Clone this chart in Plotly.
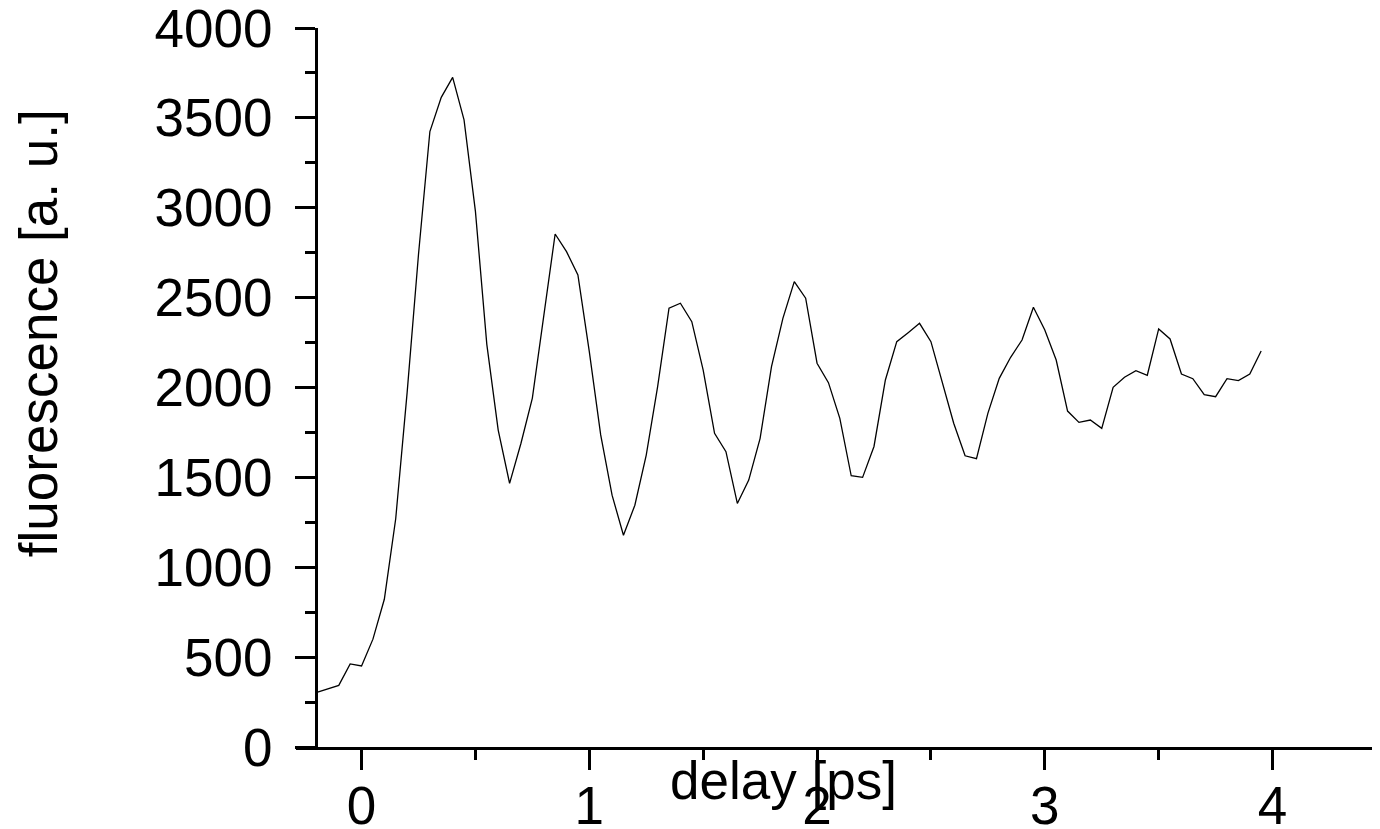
import plotly.graph_objects as go

delay_ps = [-0.2, -0.15, -0.1, -0.05, 0.0, 0.05, 0.1, 0.15, 0.2, 0.25,
            0.3, 0.35, 0.4, 0.45, 0.5, 0.55, 0.6, 0.65, 0.7, 0.75,
            0.8, 0.85, 0.9, 0.95, 1.0, 1.05, 1.1, 1.15, 1.2, 1.25,
            1.3, 1.35, 1.4, 1.45, 1.5, 1.55, 1.6, 1.65, 1.7, 1.75,
            1.8, 1.85, 1.9, 1.95, 2.0, 2.05, 2.1, 2.15, 2.2, 2.25,
            2.3, 2.35, 2.4, 2.45, 2.5, 2.55, 2.6, 2.65, 2.7, 2.75,
            2.8, 2.85, 2.9, 2.95, 3.0, 3.05, 3.1, 3.15, 3.2, 3.25,
            3.3, 3.35, 3.4, 3.45, 3.5, 3.55, 3.6, 3.65, 3.7, 3.75,
            3.8, 3.85, 3.9, 3.95]

fluorescence = [303, 321, 343, 462, 451, 600, 822, 1270, 1970, 2740,
                3424, 3614, 3725, 3489, 2980, 2240, 1763, 1467, 1690, 1941,
                2395, 2854, 2756, 2626, 2200, 1736, 1401, 1178, 1345, 1624,
                2005, 2441, 2469, 2366, 2097, 1745, 1643, 1355, 1485, 1717,
                2116, 2385, 2589, 2497, 2135, 2027, 1828, 1509, 1500, 1672,
                2042, 2255, 2305, 2357, 2255, 2032, 1801, 1620, 1604, 1856,
                2051, 2168, 2264, 2446, 2320, 2153, 1869, 1806, 1819, 1773,
                2001, 2057, 2094, 2068, 2326, 2270, 2075, 2049, 1960, 1949,
                2049, 2038, 2075, 2203]

x_ticks = [0, 1, 2, 3, 4]
y_ticks = [0, 500, 1000, 1500, 2000, 2500, 3000, 3500, 4000]
x_title = "delay [ps]"
y_title = "fluorescence [a. u.]"

FONT = "Liberation Sans, Arial, sans-serif"
W, H = 1380, 829
OFF = 8  # page body margin of the html
ML = 296 - OFF
MT = 28 - OFF
MB = H - (746.7 - OFF)
MR = OFF
plot_w = W - ML - MR
plot_h = H - MT - MB
px_per_unit = 227.75
yaxis_px = 316  # page pixel of the y axis (x = -0.2)
x_left = -0.2 - (yaxis_px - 296) / px_per_unit
x_right = -0.2 + (1380 - yaxis_px) / px_per_unit


def paper_x(page_x):
    return (page_x - 296) / plot_w


def paper_y(page_y):
    return (746.7 - page_y) / plot_h


fig = go.Figure()
fig.add_trace(go.Scatter(x=delay_ps, y=fluorescence, mode="lines",
                         line=dict(color="black", width=1.3),
                         showlegend=False))

fig.update_layout(
    width=W, height=H,
    margin=dict(l=ML, r=MR, t=MT, b=MB, autoexpand=False),
    paper_bgcolor="white", plot_bgcolor="white",
    font=dict(family=FONT, color="black"),
    xaxis=dict(
        domain=[0, 1], range=[x_left, x_right],
        showline=True, linecolor="black", linewidth=3,
        showgrid=False, zeroline=False,
        tickmode="array", tickvals=x_ticks, ticktext=[str(v) for v in x_ticks],
        ticks="outside", ticklen=20, tickwidth=3, tickcolor="black",
        tickfont=dict(size=53, family=FONT, color="black"),
        ticklabelstandoff=-10, ticklabeloverflow="allow",
        minor=dict(dtick=0.5, tick0=0, ticks="outside", ticklen=10,
                   tickwidth=3, tickcolor="black", showgrid=False),
        automargin=False,
    ),
    yaxis=dict(
        anchor="free", position=paper_x(yaxis_px),
        range=[0, 4000],
        showline=True, linecolor="black", linewidth=3,
        showgrid=False, zeroline=False,
        tickmode="array", tickvals=y_ticks, ticktext=[str(v) for v in y_ticks],
        ticks="outside", ticklen=20, tickwidth=3, tickcolor="black",
        tickfont=dict(size=53, family=FONT, color="black"),
        ticklabelstandoff=12, ticklabeloverflow="allow",
        minor=dict(dtick=250, tick0=0, ticks="outside", ticklen=10,
                   tickwidth=3, tickcolor="black", showgrid=False),
        automargin=False,
    ),
    annotations=[
        dict(text=x_title, xref="paper", yref="paper",
             x=paper_x(783), y=paper_y(780),
             xanchor="center", yanchor="middle", showarrow=False,
             font=dict(size=53, family=FONT, color="black")),
        dict(text=y_title, xref="paper", yref="paper", textangle=-90,
             x=paper_x(38), y=paper_y(333),
             xanchor="center", yanchor="middle", showarrow=False,
             font=dict(size=53, family=FONT, color="black")),
    ],
)

fig.write_html("out.html")
